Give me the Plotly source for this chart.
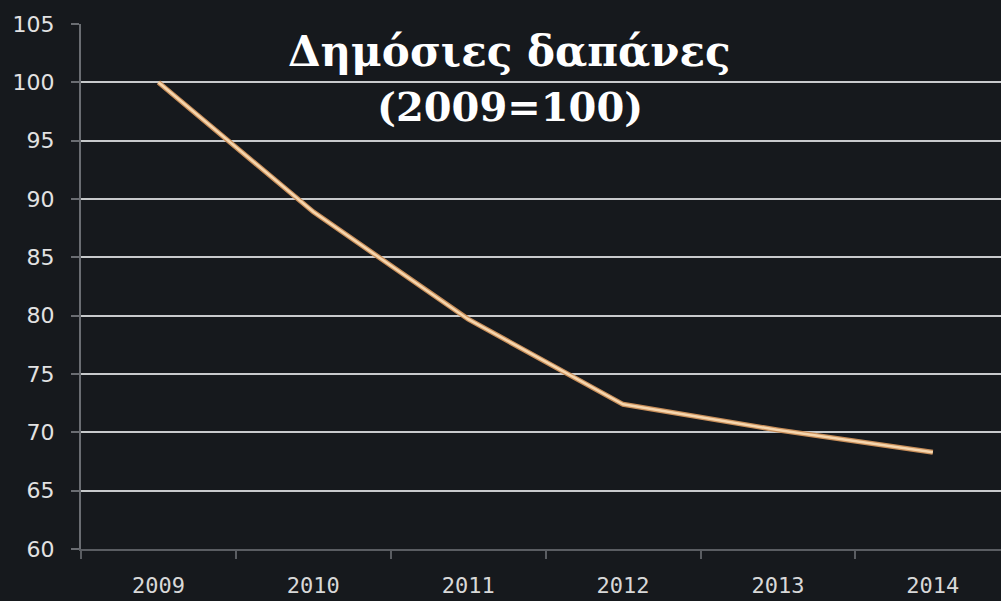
import plotly.graph_objects as go

years = ["2009", "2010", "2011", "2012", "2013", "2014"]
spending_index = [100, 88.9, 79.7, 72.4, 70.2, 68.3]
y_ticks = [60, 65, 70, 75, 80, 85, 90, 95, 100, 105]
title_line1 = "Δημόσιες δαπάνες"
title_line2 = "(2009=100)"

BG = "#16191d"
GRID = "#c8cacc"

fig = go.Figure()
fig.add_trace(go.Scatter(
    x=years, y=spending_index, mode="lines",
    line=dict(color="#c98f5a", width=5), hoverinfo="skip", showlegend=False,
))
fig.add_trace(go.Scatter(
    x=years, y=spending_index, mode="lines",
    line=dict(color="#f6d6ae", width=2.5), showlegend=False,
))

fig.add_annotation(text="<b>" + title_line1 + "</b>", xref="paper", yref="paper",
                   x=0.466, y=0.9467, xanchor="center", yanchor="middle", showarrow=False,
                   font=dict(family="DejaVu Serif", size=42, color="#ffffff"))
fig.add_annotation(text="<b>" + title_line2 + "</b>", xref="paper", yref="paper",
                   x=0.466, y=0.842, xanchor="center", yanchor="middle", showarrow=False,
                   font=dict(family="DejaVu Serif", size=40, color="#ffffff"))

fig.update_layout(
    width=1001, height=601,
    margin=dict(l=81, r=0, t=24, b=52),
    paper_bgcolor=BG, plot_bgcolor=BG,
    showlegend=False,
    xaxis=dict(
        type="category", range=[-0.5, 5.44],
        showgrid=False, showline=True, linecolor="#5a5d62", linewidth=2,
        ticks="outside", tickson="boundaries", ticklen=8, tickcolor="#5a5d62", tickwidth=2,
        tickfont=dict(family="DejaVu Sans Mono", size=22, color="#d8d8d8"),
        ticklabelstandoff=16,
    ),
    yaxis=dict(
        range=[60, 105], tickvals=y_ticks,
        showgrid=True, gridcolor=GRID, gridwidth=2,
        zeroline=False,
        showline=True, linecolor="#6a6d72", linewidth=2,
        ticks="outside", ticklen=8, tickcolor="#6a6d72", tickwidth=2,
        tickfont=dict(family="DejaVu Sans", size=22, color="#e2e2e2"),
        ticklabelstandoff=12,
    ),
)

fig.write_html(
    "out.html",
    config={"displayModeBar": False},
    post_script="document.body.style.margin='0';document.body.style.overflow='hidden';"
                "document.body.style.background='" + BG + "';",
)
